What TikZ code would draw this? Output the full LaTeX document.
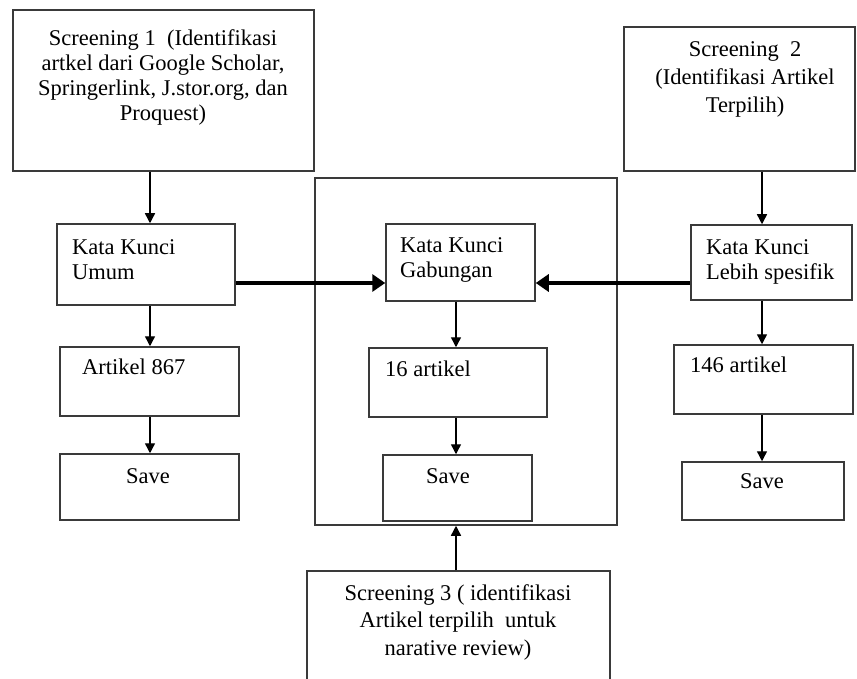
\documentclass[tikz,border=0pt]{standalone}
\usepackage{fontspec}
\setmainfont{Liberation Serif}
\usetikzlibrary{arrows.meta}
\definecolor{bordercol}{HTML}{3A3A3A}
\tikzset{
  box/.style={draw=bordercol, line width=1.5pt, rectangle, inner sep=0pt},
  txt/.style={inner sep=0pt, text=black, font=\fontsize{22.5}{25}\selectfont,
    execute at begin node={\rule{0pt}{16pt}}},
  arr/.style={draw=black, line width=1.4pt, -{Triangle[length=10pt,width=10pt]}},
  bigarr/.style={draw=black, line width=3.5pt, -{Triangle[length=13pt,width=17pt]}},
}
\begin{document}
\begin{tikzpicture}[x=1pt,y=-1pt]
\useasboundingbox (0,0) rectangle (857,679);
\clip (0,0) rectangle (857,679);
% boxes
\node[box, minimum width=301pt, minimum height=161pt] (s1) at (163.5,90.5) {};
\node[box, minimum width=231pt, minimum height=144pt] (s2) at (739.5,99) {};
\node[box, minimum width=303pt, minimum height=129pt] (s3) at (458.5,635.5) {};
\node[box, minimum width=302pt, minimum height=347pt] (mid) at (466,351.5) {};
\node[box, minimum width=178pt, minimum height=81pt] (umum) at (146,264.5) {};
\node[box, minimum width=149pt, minimum height=77pt] (gab) at (460.5,262.5) {};
\node[box, minimum width=161pt, minimum height=75pt] (leb) at (771.5,262.5) {};
\node[box, minimum width=179pt, minimum height=69pt] (art) at (149.5,381.5) {};
\node[box, minimum width=178pt, minimum height=69pt] (a16) at (458,382.5) {};
\node[box, minimum width=179pt, minimum height=69pt] (a146) at (763.5,379.5) {};
\node[box, minimum width=179pt, minimum height=66pt] (saveL) at (149.5,487) {};
\node[box, minimum width=149pt, minimum height=66pt] (saveM) at (457.5,488) {};
\node[box, minimum width=162pt, minimum height=58pt] (saveR) at (763,491) {};
% texts
\node[txt, align=center, anchor=north] (t1) at (163,29)
  {Screening 1\ \ (Identifikasi\\artkel dari Google Scholar,\\Springerlink, J.stor.org, dan\\Proquest)};
\node[txt, align=center, anchor=north, font=\fontsize{22.5}{28}\selectfont] (t2) at (745,41)
  {Screening\ \ 2\\(Identifikasi Artikel\\Terpilih)};
\node[txt, align=center, anchor=north, font=\fontsize{22.5}{27.5}\selectfont] (t3) at (458,584)
  {Screening 3 ( identifikasi\\Artikel terpilih\ \ untuk\\narative review)};
\node[txt, align=left, anchor=north west] (tu) at (72,239) {Kata Kunci\\Umum};
\node[txt, align=left, anchor=north west] (tg) at (400,237) {Kata Kunci\\Gabungan};
\node[txt, align=left, anchor=north west] (tl) at (706,239) {Kata Kunci\\Lebih spesifik};
\node[txt, anchor=base west] (ta) at (82,374) {Artikel 867};
\node[txt, anchor=base west] (t16) at (385,376) {16 artikel};
\node[txt, anchor=base west] (t146) at (690,372) {146 artikel};
\node[txt, anchor=base] (tsl) at (148,483) {Save};
\node[txt, anchor=base] (tsm) at (448,483) {Save};
\node[txt, anchor=base] (tsr) at (762,488) {Save};
% connector positions
\coordinate (xl) at (150,0);
\coordinate (xm) at (456,0);
\coordinate (xr) at (762,0);
\coordinate (yt) at (0,283);
% connectors
\draw[arr] (s1.south -| xl) -- (umum.north -| xl);
\draw[arr] (umum.south -| xl) -- (art.north -| xl);
\draw[arr] (art.south -| xl) -- (saveL.north -| xl);
\draw[arr] (s2.south -| xr) -- (leb.north -| xr);
\draw[arr] (leb.south -| xr) -- (a146.north -| xr);
\draw[arr] (a146.south -| xr) -- (saveR.north -| xr);
\draw[arr] (gab.south -| xm) -- (a16.north -| xm);
\draw[arr] (a16.south -| xm) -- (saveM.north -| xm);
\draw[arr] (s3.north -| xm) -- (mid.south -| xm);
\draw[bigarr] (umum.east |- yt) -- (gab.west |- yt);
\draw[bigarr] (leb.west |- yt) -- (gab.east |- yt);
\end{tikzpicture}
\end{document}
